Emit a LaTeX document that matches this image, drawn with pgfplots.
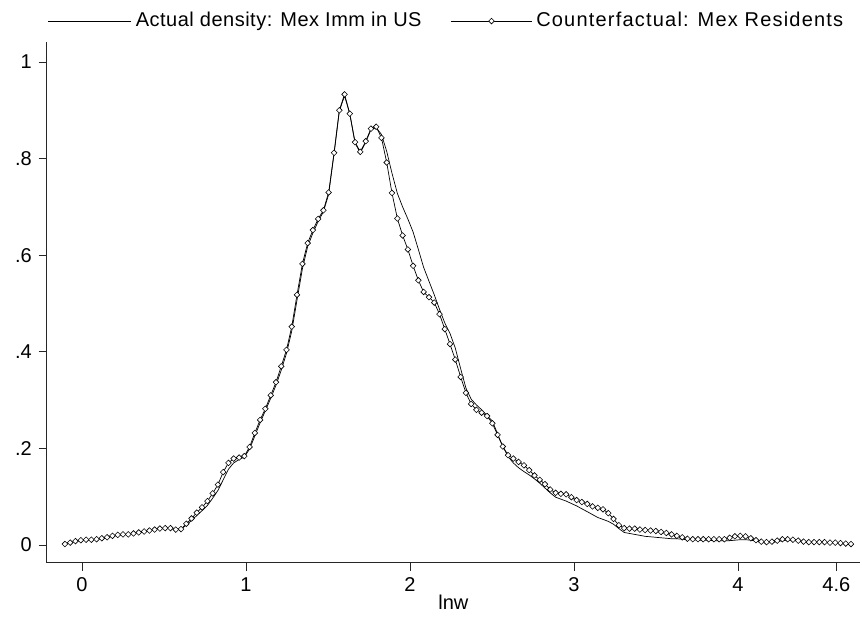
\documentclass[border=0pt]{standalone}
\usepackage{fontspec}
\setmainfont{Liberation Sans}
\newfontfamily\legfont[LetterSpace=2.5]{Liberation Sans}
\newfontfamily\legfontb[LetterSpace=6]{Liberation Sans}
\usepackage{pgfplots}
\usepackage{pgfplotstable}
\pgfplotsset{compat=1.18}
\pgfplotsset{
  adleg/.style={legend image code/.code={\draw[##1] (0pt,0pt) -- (83pt,0pt);}},
  cfleg/.style={legend image code/.code={\draw[mark repeat=2,mark phase=2,##1] plot coordinates {(0pt,0pt) (40.5pt,0pt) (81pt,0pt)};}},
}
\pgfplotstableread{
x cf ad
-0.104 0.002 0.001
-0.072 0.005 0.004
-0.040 0.008 0.007
-0.007 0.010 0.009
0.025 0.011 0.010
0.057 0.011 0.011
0.089 0.012 0.012
0.121 0.014 0.013
0.153 0.016 0.015
0.186 0.019 0.018
0.218 0.021 0.020
0.250 0.022 0.021
0.282 0.022 0.022
0.314 0.024 0.023
0.346 0.026 0.025
0.379 0.028 0.027
0.411 0.030 0.029
0.443 0.032 0.031
0.475 0.034 0.033
0.507 0.035 0.034
0.539 0.035 0.034
0.572 0.032 0.033
0.604 0.033 0.033
0.636 0.044 0.041
0.668 0.055 0.051
0.700 0.067 0.061
0.732 0.078 0.071
0.765 0.091 0.082
0.797 0.107 0.097
0.829 0.125 0.113
0.861 0.151 0.135
0.893 0.170 0.157
0.925 0.179 0.170
0.958 0.181 0.177
0.990 0.184 0.182
1.022 0.203 0.199
1.054 0.232 0.226
1.086 0.259 0.253
1.118 0.282 0.278
1.151 0.310 0.304
1.183 0.337 0.331
1.215 0.370 0.362
1.247 0.404 0.397
1.279 0.452 0.443
1.311 0.518 0.507
1.344 0.582 0.572
1.376 0.625 0.618
1.408 0.652 0.646
1.440 0.675 0.670
1.472 0.693 0.690
1.504 0.730 0.726
1.537 0.812 0.810
1.569 0.900 0.898
1.601 0.933 0.930
1.633 0.893 0.892
1.665 0.834 0.832
1.697 0.814 0.812
1.730 0.836 0.834
1.762 0.862 0.860
1.794 0.866 0.864
1.826 0.843 0.850
1.858 0.792 0.815
1.890 0.729 0.770
1.923 0.676 0.728
1.955 0.641 0.700
1.987 0.612 0.675
2.019 0.578 0.648
2.051 0.548 0.612
2.083 0.524 0.575
2.116 0.513 0.546
2.148 0.502 0.518
2.180 0.478 0.488
2.212 0.447 0.460
2.244 0.416 0.438
2.276 0.384 0.408
2.309 0.348 0.365
2.341 0.315 0.325
2.373 0.292 0.302
2.405 0.280 0.290
2.437 0.274 0.280
2.470 0.267 0.268
2.502 0.252 0.257
2.534 0.228 0.230
2.566 0.204 0.204
2.598 0.186 0.183
2.630 0.179 0.170
2.662 0.172 0.160
2.695 0.165 0.152
2.727 0.155 0.145
2.759 0.144 0.137
2.791 0.135 0.128
2.823 0.126 0.118
2.855 0.115 0.108
2.888 0.108 0.099
2.920 0.106 0.095
2.952 0.105 0.091
2.984 0.099 0.086
3.016 0.093 0.081
3.048 0.089 0.075
3.081 0.085 0.069
3.113 0.080 0.063
3.145 0.077 0.057
3.177 0.074 0.053
3.209 0.066 0.049
3.241 0.054 0.043
3.274 0.041 0.034
3.306 0.035 0.026
3.338 0.034 0.024
3.370 0.034 0.022
3.402 0.032 0.020
3.434 0.031 0.018
3.467 0.030 0.017
3.499 0.029 0.016
3.531 0.027 0.015
3.563 0.025 0.014
3.595 0.022 0.013
3.627 0.019 0.013
3.660 0.016 0.012
3.692 0.013 0.011
3.724 0.012 0.011
3.756 0.012 0.010
3.788 0.012 0.010
3.821 0.012 0.010
3.853 0.012 0.009
3.885 0.012 0.009
3.917 0.012 0.009
3.949 0.015 0.009
3.981 0.018 0.010
4.014 0.019 0.011
4.046 0.018 0.011
4.078 0.014 0.010
4.110 0.010 0.008
4.142 0.007 0.005
4.174 0.006 0.004
4.207 0.007 0.005
4.239 0.009 0.007
4.271 0.012 0.009
4.303 0.012 0.010
4.335 0.011 0.010
4.367 0.009 0.008
4.400 0.007 0.007
4.432 0.006 0.006
4.464 0.006 0.006
4.496 0.006 0.006
4.528 0.006 0.005
4.561 0.005 0.005
4.593 0.005 0.004
4.625 0.004 0.004
4.657 0.003 0.003
4.689 0.002 0.002
}\dens
\begin{document}
\fontsize{20}{24}\selectfont
\begin{tikzpicture}
\begin{axis}[
  at={(0pt,0pt)}, anchor=south west,
  scale only axis, width=813.3pt, height=520.7pt,
  xmin=-0.2152, xmax=4.744, ymin=-0.0366, ymax=1.0414,
  axis lines*=left,
  axis line style={line width=0.8pt, black!85},
  tick align=outside,
  major tick length=8pt,
  tick style={line width=0.8pt, black!85},
  xtick={0,1,2,3,4,4.6}, xticklabels={0,1,2,3,4,4.6},
  ytick={0,0.2,0.4,0.6,0.8,1}, yticklabels={0,.2,.4,.6,.8,1},
  /pgf/number format/assume math mode=true,
  ticklabel style={font=\fontsize{20}{24}\selectfont},
  xlabel={lnw},
  xlabel style={font=\fontsize{20}{24}\selectfont, yshift=5pt, inner sep=1pt},
  legend columns=2,
  legend cell align=left,
  legend style={at={(0.493,1)}, anchor=south, yshift=6pt, draw=none, fill=none,
    font=\fontsize{20}{24}\legfont,
    nodes={inner sep=4pt},
    /tikz/every even column/.append style={column sep=25pt}},
]
\addplot[black, line width=0.7pt, mark=none, adleg]
  table[x=x, y=ad] {\dens};
\addlegendentry{Actual density: Mex Imm in US}
\addplot[black, line width=0.7pt, mark=square*, mark size=2pt,
  mark options={rotate=45, fill=white, line width=0.6pt}, cfleg]
  table[x=x, y=cf] {\dens};
\addlegendentry{\legfontb Counterfactual: Mex Residents}
\end{axis}
\pgfresetboundingbox
\path[use as bounding box] (-46.7pt,-55.3pt) rectangle (815.3pt,562.7pt);
\end{tikzpicture}
\end{document}
